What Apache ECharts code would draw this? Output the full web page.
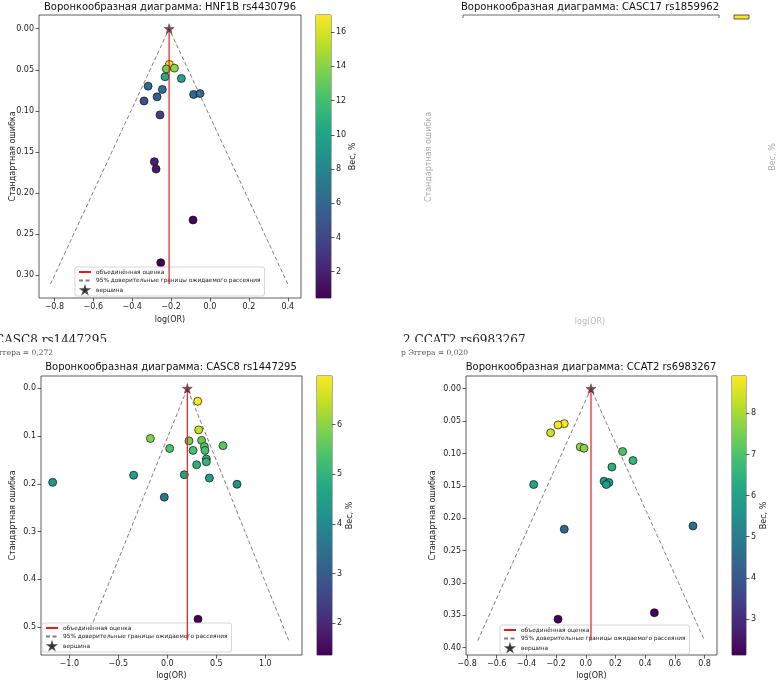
<!DOCTYPE html>
<html>
<head>
<meta charset="utf-8">
<script src="https://cdn.jsdelivr.net/npm/echarts@6/dist/echarts.min.js"></script>
<style>
  html, body { margin: 0; padding: 0; background: #fff; }
  #chart { width: 777px; height: 683px; }
</style>
</head>
<body>
<div id="chart"></div>
<script>
// HNF1B rs4430796
const hnfLogOR = [-0.209, -0.224, -0.183, -0.231, -0.147, -0.318, -0.245, -0.272, -0.084, -0.051, -0.339, -0.257, -0.286, -0.277, -0.087, -0.253];
const hnfSE = [0.0435, 0.049, 0.048, 0.0585, 0.0606, 0.070, 0.074, 0.083, 0.080, 0.079, 0.088, 0.105, 0.162, 0.171, 0.233, 0.285];
const hnfWeight = [16.9, 13.5, 14.2, 10.5, 10.0, 6.4, 6.6, 5.4, 6.0, 6.1, 4.6, 3.7, 1.9, 1.6, 0.7, 0.46];
const hnfPooled = [[-0.21, 0], [-0.21, 0.311]];
const hnfFunnel = [[-0.82, 0.311], [-0.21, 0], [0.40, 0.311]];
const hnfXTicks = [-0.8, -0.6, -0.4, -0.2, 0, 0.2, 0.4];
const hnfYTicks = [0, 0.05, 0.1, 0.15, 0.2, 0.25, 0.3];
const hnfWeightTicks = [2, 4, 6, 8, 10, 12, 14, 16];

// CASC8 rs1447295
const casc8LogOR = [0.310, 0.320, -0.173, 0.221, 0.350, 0.024, 0.378, 0.568, 0.262, 0.384, 0.398, 0.398, 0.299, 0.173, -0.344, 0.429, -1.170, 0.711, -0.031, 0.313];
const casc8SE = [0.027, 0.087, 0.105, 0.110, 0.109, 0.126, 0.122, 0.120, 0.130, 0.130, 0.148, 0.154, 0.160, 0.181, 0.182, 0.188, 0.197, 0.201, 0.228, 0.484];
const casc8Weight = [6.95, 6.5, 5.9, 5.8, 5.6, 5.4, 5.5, 5.5, 5.3, 5.3, 5.0, 5.0, 4.9, 4.6, 4.5, 4.5, 4.3, 4.2, 3.6, 1.36];
const casc8Pooled = [[0.204, 0], [0.204, 0.528]];
const casc8Funnel = [[-0.831, 0.528], [0.204, 0], [1.238, 0.528]];
const casc8XTicks = [-1, -0.5, 0, 0.5, 1];
const casc8YTicks = [0, 0.1, 0.2, 0.3, 0.4, 0.5];
const casc8WeightTicks = [2, 3, 4, 5, 6];

// CCAT2 rs6983267
const ccatLogOR = [-0.145, -0.187, -0.237, -0.037, -0.012, 0.248, 0.318, 0.176, 0.123, 0.156, 0.138, -0.351, -0.145, 0.722, 0.462, -0.187];
const ccatSE = [0.054, 0.056, 0.068, 0.090, 0.092, 0.097, 0.111, 0.121, 0.143, 0.145, 0.148, 0.148, 0.217, 0.212, 0.346, 0.356];
const ccatWeight = [8.9, 8.8, 8.4, 7.8, 7.7, 7.0, 6.6, 6.4, 6.0, 5.9, 5.9, 6.1, 4.4, 4.6, 2.2, 2.12];
const ccatPooled = [[0.035, 0], [0.035, 0.389]];
const ccatFunnel = [[-0.728, 0.389], [0.035, 0], [0.80, 0.389]];
const ccatXTicks = [-0.8, -0.6, -0.4, -0.2, 0, 0.2, 0.4, 0.6, 0.8];
const ccatYTicks = [0, 0.05, 0.1, 0.15, 0.2, 0.25, 0.3, 0.35, 0.4];
const ccatWeightTicks = [3, 4, 5, 6, 7, 8];

const viridis = ['#440154', '#482475', '#414487', '#355f8d', '#2a788e', '#21918c', '#22a884', '#44bf70', '#7ad151', '#bddf26', '#fde725'];
const starPath = 'path://M50,0 L61,35 L98,35 L68,57 L79,91 L50,70 L21,91 L32,57 L2,35 L39,35 Z';
const FONT = 'DejaVu Sans';
const SERIF = 'DejaVu Serif';
const NAMES = ['объединённая оценка', '95% доверительные границы ожидаемого рассеяния', 'вершина'];

const chart = echarts.init(document.getElementById('chart'));

const fmtX = v => (v < 0 ? '\u2212' : '') + Math.abs(v).toFixed(1);

function mainGrid(left, top, width, height) {
    return { left, top, width, height, show: true, borderColor: '#333', borderWidth: 0.8, backgroundColor: 'transparent', outerBoundsMode: 'none' };
}

function xAx(grid, min, max, ticks, gap) {
    return {
        type: 'value', gridIndex: grid, min, max,
        name: 'log(OR)', nameLocation: 'middle', nameGap: gap, nameMoveOverlap: false,
        nameTextStyle: { fontFamily: FONT, fontSize: 8, color: '#222' },
        axisLine: { show: false, onZero: false },
        axisTick: { show: true, length: 3.5, customValues: ticks, lineStyle: { color: '#333', width: 0.8 } },
        axisLabel: { customValues: ticks, formatter: fmtX, fontFamily: FONT, fontSize: 8, color: '#222', margin: 5 },
        splitLine: { show: false }
    };
}

function yAx(grid, min, max, ticks, digits, gap) {
    return {
        type: 'value', gridIndex: grid, min, max, inverse: true,
        name: 'Стандартная ошибка', nameLocation: 'middle', nameGap: gap, nameRotate: 90, nameMoveOverlap: false,
        nameTextStyle: { fontFamily: FONT, fontSize: 8, color: '#222' },
        axisLine: { show: false, onZero: false },
        axisTick: { show: true, length: 3.5, customValues: ticks, lineStyle: { color: '#333', width: 0.8 } },
        axisLabel: { customValues: ticks, formatter: v => v.toFixed(digits), fontFamily: FONT, fontSize: 8, color: '#222', margin: 5 },
        splitLine: { show: false }
    };
}

function cbX(grid) {
    return { type: 'value', gridIndex: grid, min: 0, max: 1, show: false };
}

function cbY(grid, min, max, ticks, gap) {
    return {
        type: 'value', gridIndex: grid, min, max, position: 'right',
        name: 'Вес, %', nameLocation: 'middle', nameGap: gap, nameRotate: 90, nameMoveOverlap: false,
        nameTextStyle: { fontFamily: FONT, fontSize: 8, color: '#222' },
        axisLine: { show: false, onZero: false },
        axisTick: { show: true, length: 3.5, customValues: ticks, lineStyle: { color: '#333', width: 0.8 } },
        axisLabel: { customValues: ticks, fontFamily: FONT, fontSize: 8, color: '#222', margin: 5 },
        splitLine: { show: false }
    };
}

function colorbar(axisIdx, min, max) {
    return {
        type: 'custom', xAxisIndex: axisIdx, yAxisIndex: axisIdx,
        data: [[0, min, max]],
        encode: { x: 0, y: [1, 2] },
        silent: true, z: 1,
        renderItem: function (params, api) {
            const top = api.coord([0, api.value(2)]);
            const bottom = api.coord([1, api.value(1)]);
            return {
                type: 'rect',
                shape: { x: top[0], y: top[1], width: bottom[0] - top[0], height: bottom[1] - top[1] },
                style: {
                    fill: {
                        type: 'linear', x: 0, y: 1, x2: 0, y2: 0,
                        colorStops: viridis.map((c, i) => ({ offset: i / (viridis.length - 1), color: c }))
                    }
                }
            };
        }
    };
}

function panelSeries(axisIdx, logOR, se, weight, pooled, funnel) {
    return [
        {
            type: 'scatter', xAxisIndex: axisIdx, yAxisIndex: axisIdx, name: 'исследования',
            data: logOR.map((v, i) => [v, se[i], weight[i]]),
            symbolSize: 8, z: 2,
            itemStyle: { borderColor: '#111', borderWidth: 0.7, opacity: 1 }
        },
        {
            type: 'line', xAxisIndex: axisIdx, yAxisIndex: axisIdx, name: NAMES[1],
            data: funnel, symbol: 'none', z: 3, silent: true,
            lineStyle: { color: '#808080', width: 1, type: [4, 2.5] }, itemStyle: { color: '#808080' }
        },
        {
            type: 'line', xAxisIndex: axisIdx, yAxisIndex: axisIdx, name: NAMES[0],
            data: pooled, symbol: 'none', z: 4, silent: true,
            lineStyle: { color: '#e41a1c', width: 1.2 }, itemStyle: { color: '#e41a1c' }
        },
        {
            type: 'scatter', xAxisIndex: axisIdx, yAxisIndex: axisIdx, name: NAMES[2],
            data: [pooled[0]], symbol: starPath, symbolSize: 10, z: 5,
            itemStyle: { color: '#6a1a2a', borderColor: '#222', borderWidth: 0.5 }
        }
    ];
}

function legend(left, top) {
    return {
        data: [
            { name: NAMES[0], itemStyle: { opacity: 0 } },
            { name: NAMES[1], itemStyle: { opacity: 0 } },
            { name: NAMES[2] }
        ],
        left, top, orient: 'vertical', selectedMode: false,
        itemWidth: 12, itemHeight: 6, itemGap: 2.5,
        padding: [2, 4, 2, 3],
        backgroundColor: 'rgba(255,255,255,0.85)', borderColor: '#ccc', borderWidth: 0.8, borderRadius: 2,
        textStyle: { fontFamily: FONT, fontSize: 5.8, color: '#222' }
    };
}

function title(text, x, y) {
    return { text, left: x, top: y, padding: 0, textAlign: 'center', textStyle: { fontFamily: FONT, fontSize: 10, fontWeight: 'normal', color: '#111' } };
}

const series = [].concat(
    panelSeries(0, hnfLogOR, hnfSE, hnfWeight, hnfPooled, hnfFunnel),
    [colorbar(1, 0.46, 17.0)],
    panelSeries(2, casc8LogOR, casc8SE, casc8Weight, casc8Pooled, casc8Funnel),
    [colorbar(3, 1.36, 6.98)],
    panelSeries(4, ccatLogOR, ccatSE, ccatWeight, ccatPooled, ccatFunnel),
    [colorbar(5, 2.12, 8.91)]
);

const option = {
    animation: false,
    backgroundColor: '#fff',
    textStyle: { fontFamily: FONT },
    title: [
        title('Воронкообразная диаграмма: HNF1B rs4430796', 170, 2),
        title('Воронкообразная диаграмма: CASC17 rs1859962', 590, 2),
        title('Воронкообразная диаграмма: CASC8 rs1447295', 171, 362),
        title('Воронкообразная диаграмма: CCAT2 rs6983267', 591, 362)
    ],
    grid: [
        mainGrid(39, 15, 262, 283),
        mainGrid(316, 15, 15, 283),
        mainGrid(41, 376, 261, 279),
        mainGrid(317, 376, 15, 279),
        mainGrid(466, 376, 251, 279),
        mainGrid(732, 376, 14, 279)
    ],
    xAxis: [
        xAx(0, -0.879, 0.468, hnfXTicks, 18),
        cbX(1),
        xAx(2, -1.289, 1.374, casc8XTicks, 17),
        cbX(3),
        xAx(4, -0.807, 0.884, ccatXTicks, 17),
        cbX(5)
    ],
    yAxis: [
        yAx(0, -0.0167, 0.328, hnfYTicks, 2, 22),
        cbY(1, 0.46, 17.0, hnfWeightTicks, 18),
        yAx(2, -0.026, 0.559, casc8YTicks, 1, 24),
        cbY(3, 1.36, 6.98, casc8WeightTicks, 14),
        yAx(4, -0.0196, 0.4113, ccatYTicks, 2, 29),
        cbY(5, 2.12, 8.91, ccatWeightTicks, 14)
    ],
    visualMap: [
        { type: 'continuous', show: false, seriesIndex: 0, dimension: 2, min: 0.46, max: 17.0, inRange: { color: viridis } },
        { type: 'continuous', show: false, seriesIndex: 5, dimension: 2, min: 1.36, max: 6.98, inRange: { color: viridis } },
        { type: 'continuous', show: false, seriesIndex: 10, dimension: 2, min: 2.12, max: 8.91, inRange: { color: viridis } }
    ],
    legend: [
        legend(75, 267),
        legend(42, 623),
        legend(500, 625)
    ],
    series: series,
    graphic: [
        // обрезанная панель CASC17
        { type: 'polyline', shape: { points: [[463, 18], [463, 15], [719, 15], [719, 18]] }, style: { stroke: '#444', lineWidth: 0.8, fill: null } },
        { type: 'rect', shape: { x: 734, y: 15, width: 15, height: 4 }, style: { fill: '#fde725', stroke: '#333', lineWidth: 0.8 } },
        { type: 'text', x: 429, y: 157, rotation: Math.PI / 2, style: { text: 'Стандартная ошибка', fontFamily: FONT, fontSize: 8, fill: '#aaa', align: 'center', verticalAlign: 'middle' } },
        { type: 'text', x: 773, y: 157, rotation: Math.PI / 2, style: { text: 'Вес, %', fontFamily: FONT, fontSize: 8, fill: '#aaa', align: 'center', verticalAlign: 'middle' } },
        { type: 'text', x: 590, y: 322, style: { text: 'log(OR)', fontFamily: FONT, fontSize: 8, fill: '#bbb', align: 'center', verticalAlign: 'middle' } },
        // подписи панелей (обрезаны снизу)
        { type: 'text', x: -5, y: 335, style: { text: 'CASC8 rs1447295', fontFamily: SERIF, fontSize: 12, fill: '#222' } },
        { type: 'text', x: 403, y: 335, style: { text: '2 CCAT2 rs6983267', fontFamily: SERIF, fontSize: 12, fill: '#222' } },
        { type: 'rect', shape: { x: -10, y: 342, width: 150, height: 6 }, style: { fill: '#fff' } },
        { type: 'rect', shape: { x: 398, y: 342, width: 140, height: 6 }, style: { fill: '#fff' } },
        { type: 'text', x: 53, y: 353, style: { text: 'p Эггера = 0,272', fontFamily: SERIF, fontSize: 7.5, fill: '#555', align: 'right', verticalAlign: 'middle' } },
        { type: 'text', x: 401, y: 353, style: { text: 'p Эггера = 0,020', fontFamily: SERIF, fontSize: 7.5, fill: '#555', align: 'left', verticalAlign: 'middle' } }
    ]
};

chart.setOption(option);
</script>
</body>
</html>
